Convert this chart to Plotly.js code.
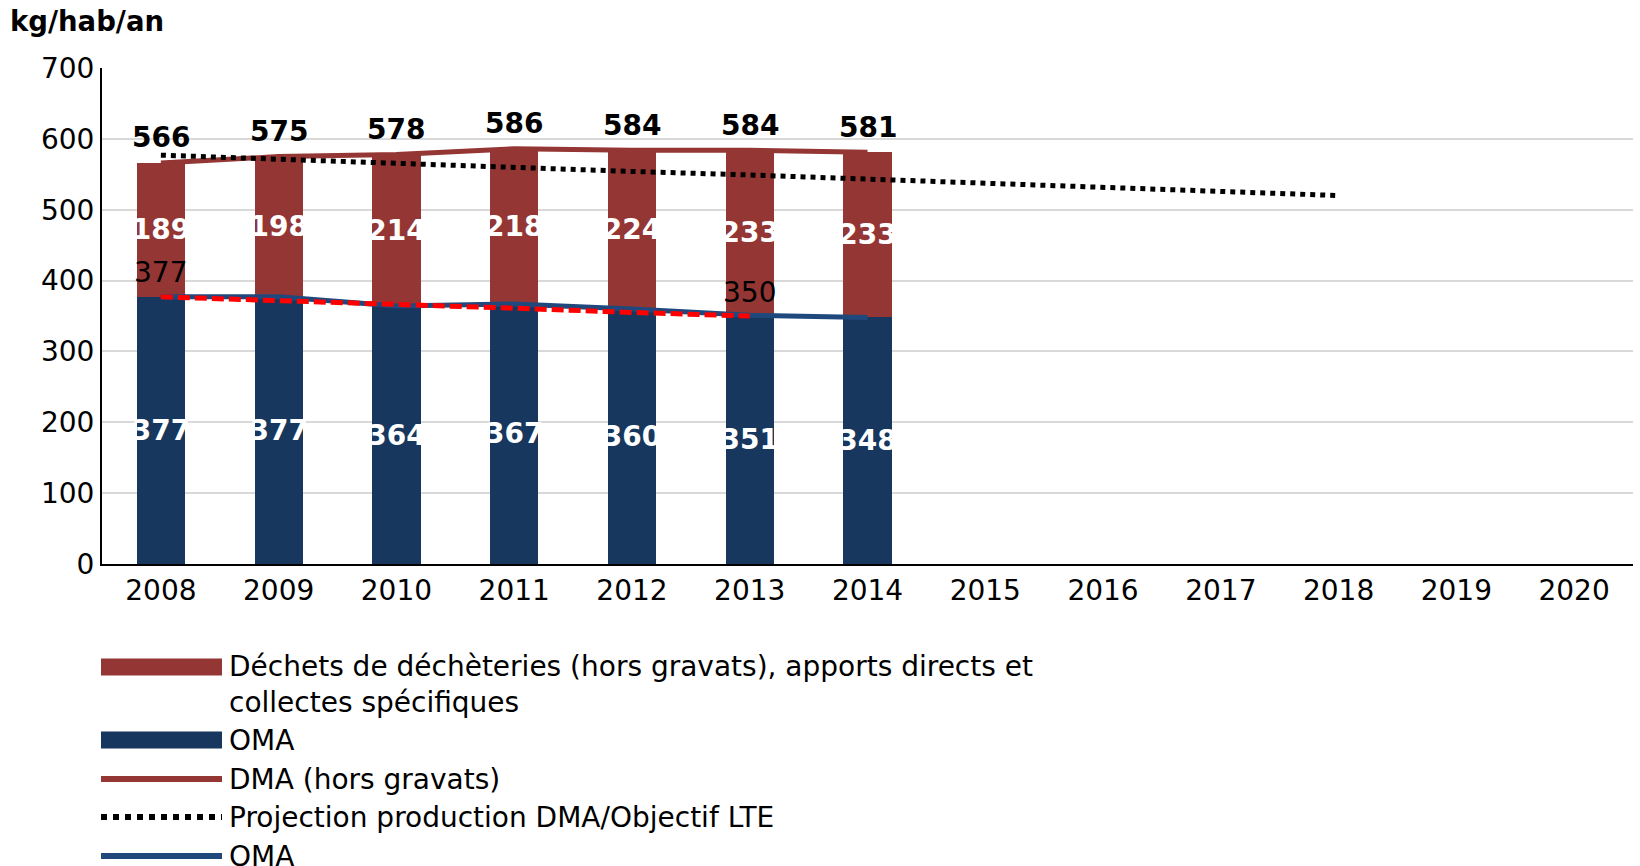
<!DOCTYPE html>
<html>
<head>
<meta charset="utf-8">
<script src="https://cdn.plot.ly/plotly-3.0.1.min.js"></script>
<style>
  html, body { margin: 0; padding: 0; background: #fff; }
  #chart { width: 1640px; height: 866px; }
</style>
</head>
<body>
<div id="chart"></div>
<script>
// ---- data ----
const years = [2008, 2009, 2010, 2011, 2012, 2013, 2014, 2015, 2016, 2017, 2018, 2019, 2020];
const barYears = [2008, 2009, 2010, 2011, 2012, 2013, 2014];
const omaValues = [377, 377, 364, 367, 360, 351, 348];
const dechetsValues = [189, 198, 214, 218, 224, 233, 233];
const dmaValues = [566, 575, 578, 586, 584, 584, 581];
const projYears = [2008, 2009, 2010, 2011, 2012, 2013, 2014, 2015, 2016, 2017, 2018];
const projValues = [577, 571, 566, 560, 554, 549, 543, 537, 531, 526, 520];
const trendYears = [2008, 2009, 2010, 2011, 2012, 2013];
const trendValues = [377, 372, 366, 361, 355, 350];
const legendLabels = [
  "Déchets de déchèteries (hors gravats), apports directs et<br>collectes spécifiques",
  "OMA",
  "DMA (hors gravats)",
  "Projection production DMA/Objectif LTE",
  "OMA"
];
const yTitle = "kg/hab/an";

// ---- style ----
const FONT = "DejaVu Sans, sans-serif";
const C_DECHETS = "#943634";
const C_OMA_BAR = "#17375E";
const C_OMA_LINE = "#1F497D";
const C_PROJ = "#000000";
const C_TREND = "#FF0000";
const FS = 28;

const M = {l: 102, r: 7, t: 68, b: 302};
const W = 1640, H = 866;
const plotW = W - M.l - M.r, plotH = H - M.t - M.b;
const px2x = p => (p - M.l) / plotW;
const px2y = p => (H - M.b - p) / plotH;

const traces = [
  {
    type: "bar", x: barYears, y: omaValues, width: 0.41,
    marker: {color: C_OMA_BAR}, showlegend: false, hoverinfo: "skip",
    text: omaValues.map(String), textposition: "inside", insidetextanchor: "middle",
    textangle: 0, constraintext: "none",
    textfont: {family: FONT, size: FS, color: "#ffffff", weight: "bold"}
  },
  {
    type: "bar", x: barYears, y: dechetsValues, width: 0.41,
    marker: {color: C_DECHETS}, showlegend: false, hoverinfo: "skip",
    text: dechetsValues.map(String), textposition: "inside", insidetextanchor: "middle",
    textangle: 0, constraintext: "none",
    textfont: {family: FONT, size: FS, color: "#ffffff", weight: "bold"}
  },
  {
    type: "scatter", mode: "lines", x: barYears, y: dmaValues,
    line: {color: C_DECHETS, width: 5}, showlegend: false, hoverinfo: "skip"
  },
  {
    type: "scatter", mode: "lines", x: barYears, y: omaValues,
    line: {color: C_OMA_LINE, width: 5}, showlegend: false, hoverinfo: "skip"
  },
  {
    type: "scatter", mode: "lines", x: projYears, y: projValues,
    line: {color: C_PROJ, width: 5, dash: "dot"}, showlegend: false, hoverinfo: "skip"
  },
  {
    type: "scatter", mode: "lines", x: trendYears, y: trendValues,
    line: {color: C_TREND, width: 5, dash: "12px,5px"}, showlegend: false, hoverinfo: "skip"
  }
];

const annotations = [];
barYears.forEach((yr, i) => {
  annotations.push({
    x: yr, y: dmaValues[i], xref: "x", yref: "y", yshift: 25,
    text: "<b>" + dmaValues[i] + "</b>", showarrow: false,
    font: {family: FONT, size: FS, color: "#000"}
  });
});
[0, trendYears.length - 1].forEach(i => {
  annotations.push({
    x: trendYears[i], y: trendValues[i], xref: "x", yref: "y", yshift: 24,
    text: String(trendValues[i]), showarrow: false,
    font: {family: FONT, size: FS, color: "#000"}
  });
});

// ---- custom legend ----
const legendRows = [684, 740, 779, 817, 856];
const swatchX0 = 101, swatchX1 = 222, textX = 227;
const shapes = [];
[[667, C_DECHETS], [740, C_OMA_BAR]].forEach(([cy, col]) => {
  shapes.push({type: "rect", xref: "paper", yref: "paper",
    x0: px2x(swatchX0), x1: px2x(swatchX1), y0: px2y(cy - 8.5), y1: px2y(cy + 8.5),
    fillcolor: col, line: {width: 0}});
});
shapes.push({type: "line", xref: "paper", yref: "paper",
  x0: px2x(swatchX0), x1: px2x(swatchX1), y0: px2y(779), y1: px2y(779),
  line: {color: C_DECHETS, width: 6}});
shapes.push({type: "line", xref: "paper", yref: "paper",
  x0: px2x(swatchX0), x1: px2x(swatchX1), y0: px2y(817), y1: px2y(817),
  line: {color: C_PROJ, width: 6, dash: "dot"}});
shapes.push({type: "line", xref: "paper", yref: "paper",
  x0: px2x(swatchX0), x1: px2x(swatchX1), y0: px2y(856), y1: px2y(856),
  line: {color: C_OMA_LINE, width: 6}});

legendLabels.forEach((lab, i) => {
  annotations.push({
    xref: "paper", yref: "paper", x: px2x(textX), y: px2y(legendRows[i]),
    xanchor: "left", yanchor: "middle", align: "left",
    text: lab, showarrow: false,
    font: {family: FONT, size: FS, color: "#000"}
  });
});

const layout = {
  width: W, height: H,
  margin: M,
  paper_bgcolor: "#ffffff", plot_bgcolor: "#ffffff",
  barmode: "stack",
  showlegend: false,
  font: {family: FONT, size: FS, color: "#000"},
  title: {
    text: "<b>" + yTitle + "</b>", x: 10 / W, xanchor: "left", xref: "container",
    y: 1 - 21 / H, yanchor: "middle", yref: "container",
    font: {family: FONT, size: 27.5, color: "#000"}
  },
  xaxis: {
    type: "linear", range: [2007.5, 2020.5],
    tickmode: "array", tickvals: years, ticktext: years.map(String),
    showgrid: false, zeroline: false,
    showline: true, linecolor: "#000", linewidth: 2,
    ticks: "", ticklabelstandoff: 0,
    tickfont: {family: FONT, size: FS, color: "#000"},
    fixedrange: true
  },
  yaxis: {
    range: [0, 700], tickmode: "linear", tick0: 0, dtick: 100,
    showgrid: true, gridcolor: "#d9d9d9", gridwidth: 2,
    zeroline: false,
    showline: true, linecolor: "#000", linewidth: 2,
    ticks: "", ticklabelstandoff: 0,
    tickfont: {family: FONT, size: FS, color: "#000"},
    fixedrange: true
  },
  annotations: annotations,
  shapes: shapes
};

Plotly.newPlot("chart", traces, layout, {displayModeBar: false, staticPlot: true});
</script>
</body>
</html>
